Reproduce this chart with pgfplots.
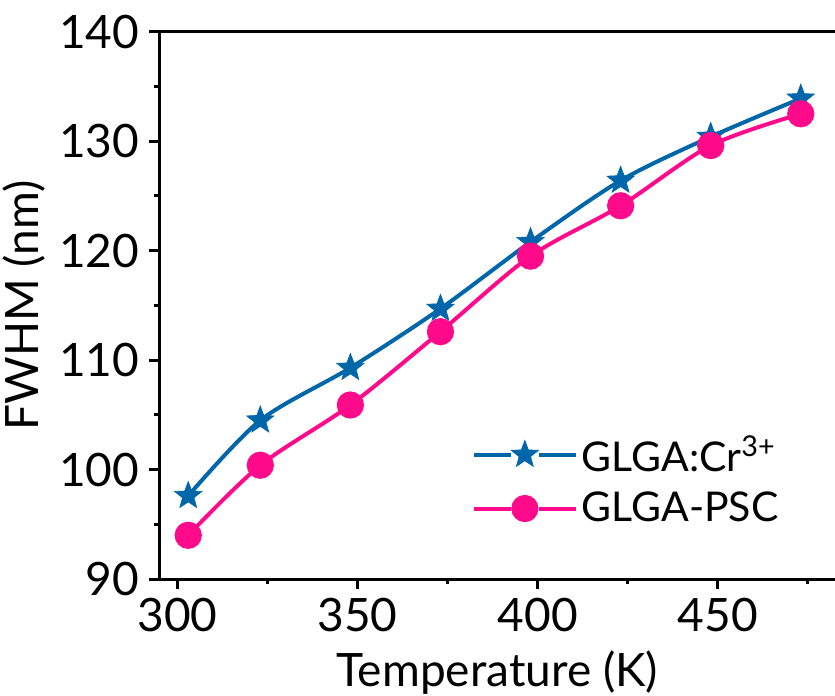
\documentclass[border=0pt]{standalone}
\usepackage{pgfplots}
\pgfplotsset{compat=1.18}
\usepackage{fontspec}
\setmainfont{Lato}
\usetikzlibrary{calc}

\definecolor{cblue}{HTML}{0066AA}
\definecolor{cpink}{HTML}{FF0A8A}

% filled five-pointed star
\pgfdeclareplotmark{fstar}{%
  \pgfpathmoveto{\pgfqpointpolar{90}{\pgfplotmarksize}}%
  \pgfpathlineto{\pgfqpointpolar{126}{0.42\pgfplotmarksize}}%
  \pgfpathlineto{\pgfqpointpolar{162}{\pgfplotmarksize}}%
  \pgfpathlineto{\pgfqpointpolar{198}{0.42\pgfplotmarksize}}%
  \pgfpathlineto{\pgfqpointpolar{234}{\pgfplotmarksize}}%
  \pgfpathlineto{\pgfqpointpolar{270}{0.42\pgfplotmarksize}}%
  \pgfpathlineto{\pgfqpointpolar{306}{\pgfplotmarksize}}%
  \pgfpathlineto{\pgfqpointpolar{342}{0.42\pgfplotmarksize}}%
  \pgfpathlineto{\pgfqpointpolar{18}{\pgfplotmarksize}}%
  \pgfpathlineto{\pgfqpointpolar{54}{0.42\pgfplotmarksize}}%
  \pgfpathclose
  \pgfusepathqfillstroke
}

\begin{document}
\begin{tikzpicture}
\begin{axis}[
    name=ax,
    width=337.8pt, height=273.7pt,
    scale only axis,
    xmin=295, xmax=482.5, ymin=90, ymax=140,
    axis x line=box, axis y line=left,
    axis line style={-, line width=1.5pt},
    xtick pos=bottom, ytick pos=left,
    xtick={300,350,400,450}, ytick={90,100,...,140},
    minor xtick={325,375,425,475}, minor ytick={95,105,...,135},
    tick align=outside,
    major tick length=5pt, minor tick length=2.6pt,
    every tick/.style={black, line width=1.5pt},
    tick label style={font=\fontsize{23}{27}\selectfont},
    /pgf/number format/assume math mode=true,
    xticklabel style={yshift=-1pt},
    yticklabel style={xshift=-1.5pt},
    xlabel={Temperature (K)}, ylabel={FWHM (nm)},
    xlabel style={yshift=-2.5pt},
    label style={font=\fontsize{23}{27}\selectfont},
    legend style={draw=none, fill=none, at={(0.453,0.278)}, anchor=north west,
        font=\fontsize{20.5}{24}\selectfont, row sep=5pt,
        /tikz/every even column/.append style={column sep=2pt}},
    legend cell align=left,
    legend image code/.code={
        \draw[#1, mark=none] (0pt,0pt) -- (18.5pt,0pt);
        \draw[#1, mark=none] (32.5pt,0pt) -- (51pt,0pt);
        \draw[#1] plot coordinates {(25.5pt,0pt)};
    },
    clip=false,
]
\addplot[cblue, line width=2pt, smooth, mark=fstar, mark size=7.2pt,
    mark options={fill=cblue, line width=0.3pt, solid}] coordinates {
    (303,97.6)(323,104.5)(348,109.3)(373,114.7)(398,120.8)(423,126.4)(448,130.4)(473,133.9)
};
\addplot[cpink, line width=2pt, smooth, mark=*, mark size=5.8pt,
    mark options={fill=cpink, draw=cpink, solid}] coordinates {
    (303,94.0)(323,100.4)(348,105.9)(373,112.6)(398,119.5)(423,124.1)(448,129.6)(473,132.5)
};
\legend{GLGA:Cr\textsuperscript{3+}, GLGA-PSC}
\end{axis}
\pgfresetboundingbox
\path ($(ax.south west)+(-79.7pt,-58pt)$) rectangle ($(ax.north east)+(0pt,15.85pt)$);
\end{tikzpicture}
\end{document}
